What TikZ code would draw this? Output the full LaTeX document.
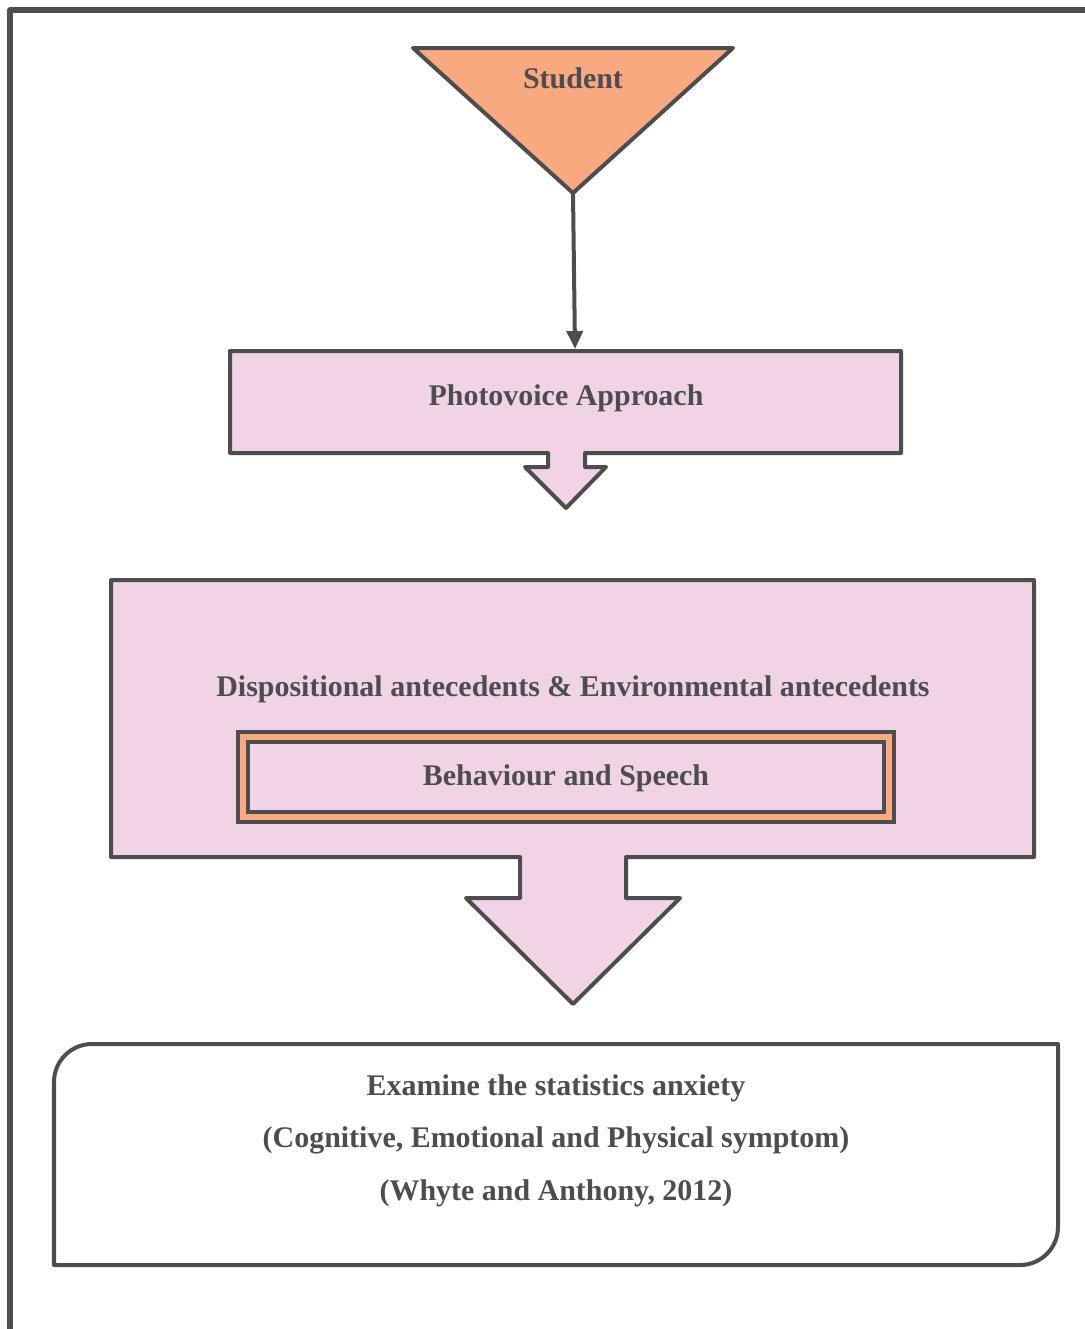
\documentclass[tikz,border=0pt]{standalone}
\usepackage{fontspec}
\setmainfont{Liberation Serif}
\usetikzlibrary{arrows.meta, positioning, calc}
\definecolor{framegray}{RGB}{77,77,79}
\definecolor{boxpink}{RGB}{241,211,230}
\definecolor{boxsalmon}{RGB}{249,169,127}

\begin{document}
\begin{tikzpicture}[
    x=0.025cm, y=-0.025cm,
    outline/.style={draw=framegray, line width=0.1cm, line join=round},
    lbl/.style={text=framegray, font=\fontsize{21.3}{37}\selectfont\bfseries, align=center, anchor=base, inner sep=0pt},
    arr/.style={-{Triangle[length=0.45cm, width=0.4cm]}, draw=framegray, line width=0.1cm}
]
    \useasboundingbox (0,0) rectangle (1085,1329);
    \draw[draw=framegray, line width=0.14cm, line join=round] (1085,10) -- (10,10) -- (10,1329);

    \filldraw[outline, fill=boxsalmon] (413,48) -- (733,48) -- (573,193) -- cycle;
    \node (student) [lbl] at (573,88) {Student};
    \coordinate (studenttip) at (573,193);

    \filldraw[outline, fill=boxpink] (230,351) -- (901,351) -- (901,453) -- (585,453) -- (585,467) -- (606,467)
        -- (566,508) -- (525,467) -- (548,467) -- (548,453) -- (230,453) -- cycle;
    \node (photo) [lbl] at (566,405) {Photovoice Approach};
    \coordinate (phototop) at (575,349);

    \filldraw[outline, fill=boxpink] (111,580) -- (1034,580) -- (1034,857) -- (626,857) -- (626,898) -- (680,898)
        -- (573,1004) -- (466,898) -- (520,898) -- (520,857) -- (111,857) -- cycle;
    \node (antecedents) [lbl] at (573,696) {Dispositional antecedents \& Environmental antecedents};

    \node (behaviourbox) [draw=framegray, line width=0.1cm, double=boxsalmon, double distance=0.15cm, fill=boxpink,
        minimum width=16.15cm, minimum height=2.02cm, inner sep=0pt] at (566,777) {};
    \node (behaviour) [lbl] at (566,785) {Behaviour and Speech};

    \draw[outline] (54,1265) -- (54,1150) [rounded corners=0.95cm] -- (54,1044) -- (500,1044) [sharp corners]
        -- (1058,1044) -- (1058,1150) [rounded corners=0.95cm] -- (1058,1265) -- (500,1265) [sharp corners] -- cycle;
    \node (examine) [lbl] at (556,1200) {Examine the statistics anxiety\\(Cognitive, Emotional and Physical symptom)\\(Whyte and Anthony, 2012)};

    \draw[arr] (studenttip) -- (phototop);
\end{tikzpicture}
\end{document}
